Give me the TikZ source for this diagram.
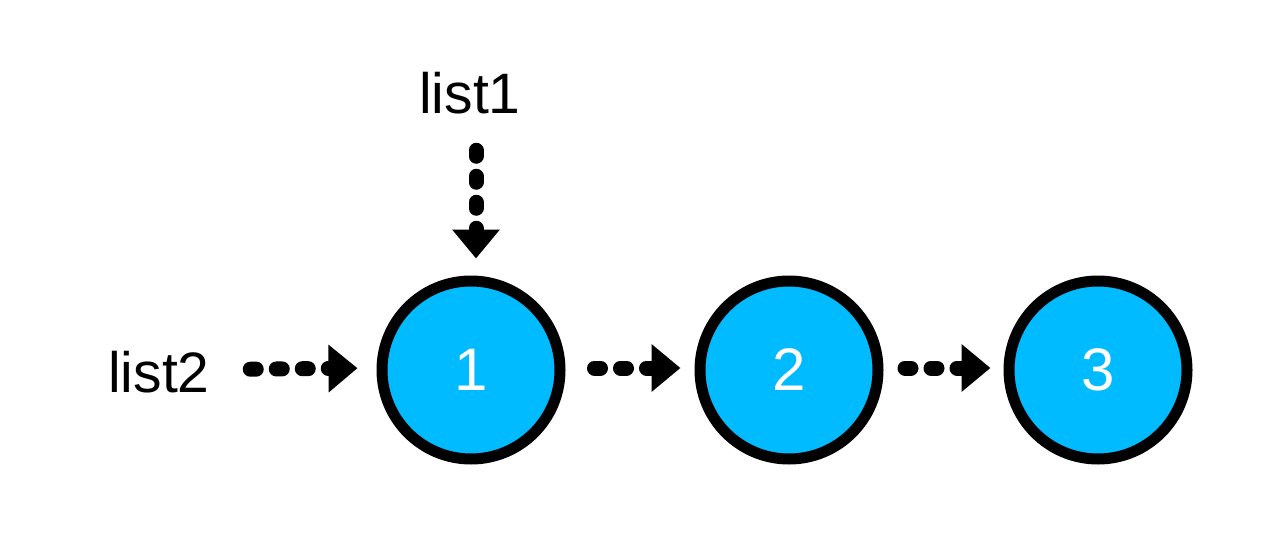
\documentclass[tikz,border=0pt]{standalone}
\usepackage{fontspec}
\setmainfont{Liberation Sans}
\usetikzlibrary{arrows.meta}
\definecolor{nodefill}{RGB}{0,187,255}
\tikzset{
  listnode/.style={circle, draw=black, line width=11pt, fill=nodefill,
    minimum size=178pt, inner sep=0pt, text=white, font=\fontsize{60}{60}\selectfont},
  label/.style={inner sep=0pt, font=\fontsize{57}{57}\selectfont},
  headtip/.tip={Triangle[length=29pt,width=46pt]},
  dotarrow/.style={line width=15pt, line cap=round, dash pattern=on 6pt off 20pt, -headtip}
}
\begin{document}
\begin{tikzpicture}[x=1pt,y=-1pt]
  \useasboundingbox (0,0) rectangle (1286,546);
  % the three list nodes
  \node[listnode] (n1) at (471,370) {1};
  \node[listnode] (n2) at (789,370) {2};
  \node[listnode] (n3) at (1098,370) {3};
  % head pointers
  \node[label, anchor=base west] (list2) at (108,392) {list2};
  \node[label, anchor=base] (list1) at (470,113) {list1};
  % links
  \draw[dotarrow, shorten <=40.5pt, shorten >=19pt] ([yshift=2pt]list2.east) -- ([yshift=2pt]n1.west);
  \draw[dotarrow, shorten <=36.5pt, shorten >=17pt] ([xshift=5pt]list1.south -| n1.north) -- ([xshift=5pt]n1.north);
  \draw[dotarrow, shorten <=29pt, shorten >=14pt] ([yshift=2pt]n1.east) -- ([yshift=2pt]n2.west);
  \draw[dotarrow, shorten <=21.5pt, shorten >=13pt] ([yshift=2pt]n2.east) -- ([yshift=2pt]n3.west);
\end{tikzpicture}
\end{document}
